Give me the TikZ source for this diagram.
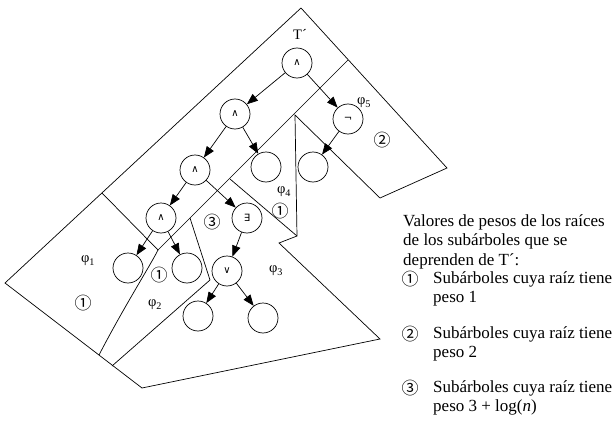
\documentclass[tikz,border=0pt]{standalone}
\usepackage{fontspec}
\setmainfont{Liberation Serif}
\newfontfamily\symfont{DejaVu Sans}
\newfontfamily\cjkfont{Noto Sans CJK SC}
\usetikzlibrary{arrows.meta}
\begin{document}
\begin{tikzpicture}[x=1pt,y=-1pt,
  border/.style={line width=0.7pt,line join=miter},
  vertex/.style={circle,draw,line width=0.7pt,minimum size=30pt,inner sep=0pt,
    font=\symfont\fontsize{10}{10}\selectfont},
  arc/.style={line width=0.7pt,-{Triangle[length=11pt,width=8.5pt]}},
  lbl/.style={inner sep=0pt,font=\fontsize{14.5}{14.5}\selectfont},
  num/.style={inner sep=0pt,font=\cjkfont\fontsize{17}{17}\selectfont},
  legend/.style={inner sep=0pt,anchor=base west,font=\fontsize{17}{17}\selectfont}]
\useasboundingbox (0,0) rectangle (614,423);

% corner points of the partition
\coordinate (apex) at (301,8);
\coordinate (rt) at (447,168);
\coordinate (rb) at (380,198);
\coordinate (vt) at (295,115);
\coordinate (vb) at (297,236);
\coordinate (nk) at (279,243);
\coordinate (sr) at (380,339);
\coordinate (sb) at (142,388);
\coordinate (lf) at (5,283);
\coordinate (d1a) at (348,60);
\coordinate (d1b) at (158,250);
\coordinate (lu) at (102,193);
\coordinate (c1) at (99,355);
\coordinate (p4) at (230,179);
\coordinate (s3a) at (190,218);
\coordinate (s3b) at (210,280);
\coordinate (s3c) at (112,366);

% outline and inner borders
\draw[border] (apex) -- (rt) -- (rb) -- (vt) -- (vb) -- (nk) -- (sr) -- (sb) -- (lf) -- cycle;
\draw[border] (d1a) -- (d1b);
\draw[border] (lu) -- (d1b);
\draw[border] (d1b) .. controls (150,266) and (125,305) .. (c1);
\draw[border] (p4) -- (vb);
\draw[border] (s3a) -- (s3b) -- (s3c);

% tree
\node[vertex] (r) at (297,63) {∧};
\node[vertex] (a2) at (235,114) {∧};
\node[vertex] (ng) at (348,119) {¬};
\node[vertex] (l5) at (313,167) {};
\node[vertex] (l4) at (266,167) {};
\node[vertex] (a3) at (195,170) {∧};
\node[vertex] (a4) at (161,218) {∧};
\node[vertex] (ex) at (247,218) {∃};
\node[vertex] (l1) at (128,268) {};
\node[vertex] (l2) at (187,268) {};
\node[vertex] (or) at (227,271) {∨};
\node[vertex] (l6) at (198,316) {};
\node[vertex] (l7) at (263,318) {};

\draw[arc] (r) -- (a2);
\draw[arc] (r) -- (ng);
\draw[arc] (ng) -- (l5);
\draw[arc] (a2) -- (a3);
\draw[arc] (a2) -- (l4);
\draw[arc] (a3) -- (a4);
\draw[arc] (a3) -- (ex);
\draw[arc] (a4) -- (l1);
\draw[arc] (a4) -- (l2);
\draw[arc] (ex) -- (or);
\draw[arc] (or) -- (l6);
\draw[arc] (or) -- (l7);

% region labels
\node[lbl] (tp) at (300,34) {T´};
\node[lbl] (f5) at (364,103) {φ\textsubscript{5}};
\node[lbl] (f4) at (284,192) {φ\textsubscript{4}};
\node[lbl] (f1) at (88,261) {φ\textsubscript{1}};
\node[lbl] (f2) at (155,305) {φ\textsubscript{2}};
\node[lbl] (f3) at (276,271) {φ\textsubscript{3}};
\node[num] (n5) at (382,140) {②};
\node[num] (n4) at (280,211) {①};
\node[num] (n3) at (212,222) {③};
\node[num] (n2) at (159,275) {①};
\node[num] (n1) at (83,303) {①};

% legend
\node[legend] (t1) at (403,226) {Valores de pesos de los raíces};
\node[legend] (t2) at (403,245.5) {de los subárboles que se};
\node[legend] (t3) at (403,265) {deprenden de T´:};
\node[num,anchor=center] (k1) at (410,279) {①};
\node[legend] (k1a) at (433,283) {Subárboles cuya raíz tiene};
\node[legend] (k1b) at (433,302) {peso 1};
\node[num,anchor=center] (k2) at (410,334) {②};
\node[legend] (k2a) at (433,338) {Subárboles cuya raíz tiene};
\node[legend] (k2b) at (433,357) {peso 2};
\node[num,anchor=center] (k3) at (410,388) {③};
\node[legend] (k3a) at (433,392) {Subárboles cuya raíz tiene};
\node[legend] (k3b) at (433,411) {peso 3 + log(\textit{n})};
\end{tikzpicture}
\end{document}
